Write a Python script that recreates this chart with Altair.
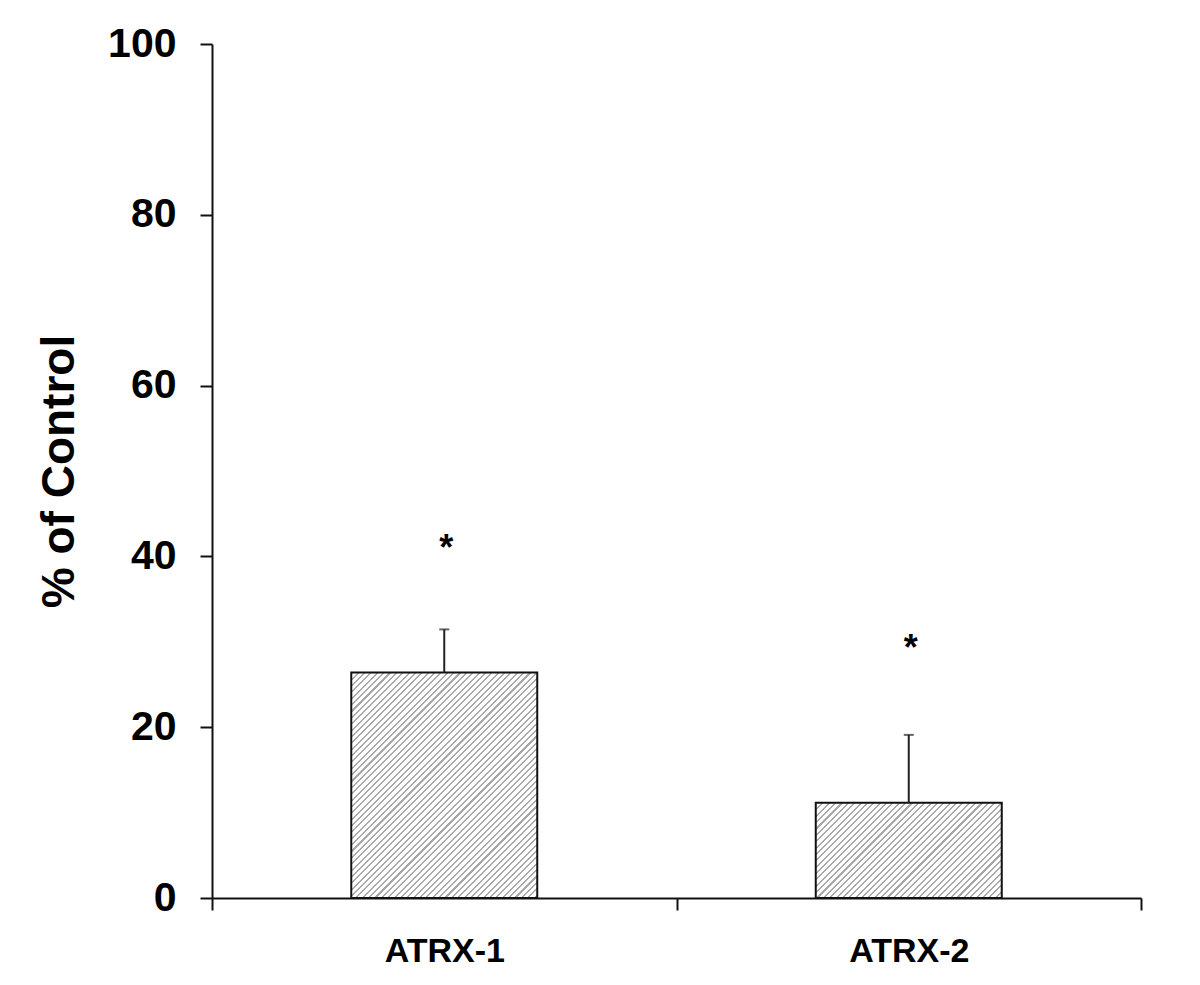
import math
import altair as alt
import pandas as pd

# ---- data ----
categories = ["ATRX-1", "ATRX-2"]
means = [26.4, 11.15]
upper_err = [5.05, 7.95]
star_pos = [41.8, 30.1]
y_ticks = [0, 20, 40, 60, 80, 100]

PLOT_W, PLOT_H = 929, 854
BAR_W = 186
FONT = "Liberation Sans"

df = pd.DataFrame({
    "cat": categories,
    "mean": means,
    "upper": [m + e for m, e in zip(means, upper_err)],
    "star": star_pos,
})


def hatch(w, h, period=4.5, frac=0.32, color="#a9a9a9"):
    """Diagonal '/' hatch as a hard-stop linear gradient in bbox units."""
    t = (w + h) / (w * w + h * h)
    p, q = w * t, h * t
    L = (w + h) / math.sqrt(2)
    n = L / period
    stops = []
    k = 0
    while k < n:
        a = min(k / n, 1.0)
        b = min((k + frac) / n, 1.0)
        c = min((k + 1) / n, 1.0)
        stops += [
            alt.GradientStop(color=color, offset=a),
            alt.GradientStop(color=color, offset=b),
            alt.GradientStop(color="white", offset=b),
            alt.GradientStop(color="white", offset=c),
        ]
        k += 1
    return alt.LinearGradient(gradient="linear", stops=stops, x1=0, y1=0, x2=p, y2=q)


x_enc = alt.X(
    "cat:N",
    sort=categories,
    scale=alt.Scale(paddingInner=0, paddingOuter=0),
    axis=alt.Axis(
        title=None, tickBand="extent", labelAngle=0, labelFontSize=34,
        labelFontWeight="bold", labelPadding=24, tickSize=12,
    ),
)


def y_enc(field):
    return alt.Y(
        f"{field}:Q",
        scale=alt.Scale(domain=[0, 100]),
        axis=alt.Axis(
            values=y_ticks, title="% of Control", grid=False,
            tickSize=12, labelFontSize=41, labelFontWeight="bold", labelPadding=24,
            titleFontSize=46, titleFontWeight="bold", titleAngle=-90,
            titleX=-139, titleY=PLOT_H / 2, titleAlign="center",
            titleBaseline="alphabetic",
        ),
    )


layers = []
for c, m in zip(categories, means):
    h = m / 100 * PLOT_H
    layers.append(
        alt.Chart(df)
        .transform_filter(alt.datum.cat == c)
        .mark_bar(size=BAR_W, fill=hatch(BAR_W, h), stroke="#111", strokeWidth=2)
        .encode(x=x_enc, y=y_enc("mean"))
    )

rules = alt.Chart(df).mark_rule(color="#222", strokeWidth=2).encode(
    x=x_enc, y=y_enc("mean"), y2="upper:Q"
)
caps = alt.Chart(df).mark_tick(color="#222", size=10, thickness=2).encode(
    x=x_enc, y=y_enc("upper")
)
stars = alt.Chart(df).mark_text(
    text="*", fontSize=36, fontWeight="bold", font=FONT, baseline="middle", dy=8, dx=2, color="black"
).encode(x=x_enc, y=y_enc("star"))

chart = (
    alt.layer(*layers, rules, caps, stars)
    .properties(
        width=PLOT_W, height=PLOT_H,
        autosize=alt.AutoSizeParams(type="none"),
        padding={"left": 204, "top": 36, "right": 51, "bottom": 79},
    )
    .configure_view(stroke=None)
    .configure_axis(
        labelFont=FONT, titleFont=FONT, labelColor="black", titleColor="black",
        domainColor="#111", domainWidth=2, tickColor="#111", tickWidth=2,
    )
)

chart.save("out.html", embed_options={"renderer": "svg", "actions": False})
